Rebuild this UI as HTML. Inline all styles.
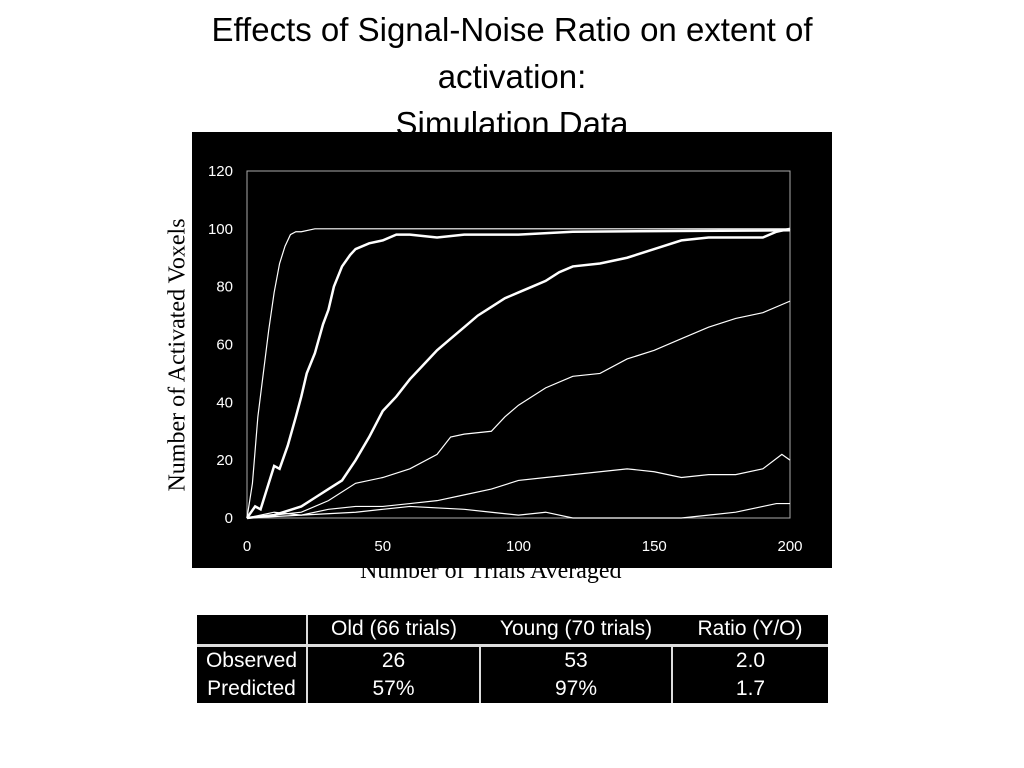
<!DOCTYPE html>
<html><head><meta charset="utf-8"><style>
body{margin:0;width:1024px;height:768px;background:#fff;position:relative;overflow:hidden;font-family:"Liberation Sans",sans-serif}
.title{position:absolute;left:0;width:1024px;top:6px;text-align:center;font-size:33px;line-height:47px;color:#000}
.serif{font-family:"Liberation Serif",serif;font-size:24px;color:#000;position:absolute;white-space:nowrap}
table{position:absolute;left:197px;top:615px;border-collapse:collapse;background:#000;color:#fff;font-size:21px}
td{padding:0;text-align:center;height:28px}
</style></head><body>
<div class="title">Effects of Signal-Noise Ratio on extent of<br>activation:<br>Simulation Data</div>
<div class="serif" style="left:360px;top:558px">Number of Trials Averaged</div>
<svg id="chart" style="position:absolute;left:0;top:0" width="1024" height="600"></svg>
<div class="serif" style="left:178px;top:355px;transform:translate(-50%,-50%) rotate(-90deg)">Number of Activated Voxels</div>
<table>
<tr style="height:30px"><td style="width:109px;border-right:2px solid #ddd;border-bottom:3px solid #ddd"></td><td style="width:172px;border-bottom:3px solid #ddd">Old (66 trials)</td><td style="width:192px;border-bottom:3px solid #ddd">Young (70 trials)</td><td style="width:156px;border-bottom:3px solid #ddd">Ratio (Y/O)</td></tr>
<tr><td style="border-right:2px solid #ddd">Observed</td><td style="border-right:2px solid #ddd">26</td><td style="border-right:2px solid #ddd">53</td><td>2.0</td></tr>
<tr><td style="border-right:2px solid #ddd">Predicted</td><td style="border-right:2px solid #ddd">57%</td><td style="border-right:2px solid #ddd">97%</td><td>1.7</td></tr>
</table>
<script>
const yTicks=[0,20,40,60,80,100,120];
const xTicks=[0,50,100,150,200];
const s1x=[0,2,4,6,8,10,12,14,16,18,20,25,200];
const s1y=[0,12,35,50,65,78,88,94,98,99,99,100,100];
const s2x=[0,3,5,8,10,12,15,18,20,22,25,28,30,32,35,38,40,45,50,55,60,70,80,90,100,120,200];
const s2y=[0,4,3,12,18,17,25,35,42,50,57,67,72,80,87,91,93,95,96,98,98,97,98,98,98,99,99.5];
const s3x=[0,10,20,25,30,35,40,45,50,55,60,65,70,75,80,85,90,95,100,105,110,115,120,130,140,150,160,170,180,190,195,200];
const s3y=[0,1,4,7,10,13,20,28,37,42,48,53,58,62,66,70,73,76,78,80,82,85,87,88,90,93,96,97,97,97,99,100];
const s4x=[0,20,30,40,50,60,70,75,80,90,95,100,110,120,130,140,150,160,170,180,190,200];
const s4y=[0,2,6,12,14,17,22,28,29,30,35,39,45,49,50,55,58,62,66,69,71,75];
const s5x=[0,20,30,40,50,60,70,80,90,100,110,120,130,140,150,160,170,180,190,197,200];
const s5y=[0,1,3,4,4,5,6,8,10,13,14,15,16,17,16,14,15,15,17,22,20];
const s6x=[0,10,20,40,50,60,80,90,100,110,120,150,160,170,180,190,195,200];
const s6y=[0,2,1,2,3,4,3,2,1,2,0,0,0,1,2,4,5,5];
const svg=document.getElementById('chart');const NS='http://www.w3.org/2000/svg';
const X=v=>247+v*(790-247)/200, Y=v=>518-v*(518-171)/120;
function mk(t,a){const e=document.createElementNS(NS,t);for(const k in a)e.setAttribute(k,a[k]);svg.appendChild(e);return e;}
const bg=mk('rect',{x:192,y:132,width:640,height:436,fill:'#000'});


const fr=mk('rect',{x:247,y:171,width:543,height:347,fill:'none',stroke:'#aaa','stroke-width':1});


yTicks.forEach(v=>{const t=mk('text',{x:233,y:Y(v)+5,fill:'#fff','font-size':15,'text-anchor':'end','font-family':'Liberation Sans'});t.textContent=v;

});
xTicks.forEach(v=>{const t=mk('text',{x:X(v),y:551,fill:'#fff','font-size':15,'text-anchor':'middle','font-family':'Liberation Sans'});t.textContent=v;

});
[[s1x,s1y,1.2],[s2x,s2y,2.5],[s3x,s3y,2.5],[s4x,s4y,1.2],[s5x,s5y,1.2],[s6x,s6y,1.2]].forEach((s,i)=>{
const p=mk('polyline',{points:s[0].map((x,j)=>X(x)+','+Y(s[1][j])).join(' '),fill:'none',stroke:'#fff','stroke-width':s[2]});

});
</script>
</body></html>
